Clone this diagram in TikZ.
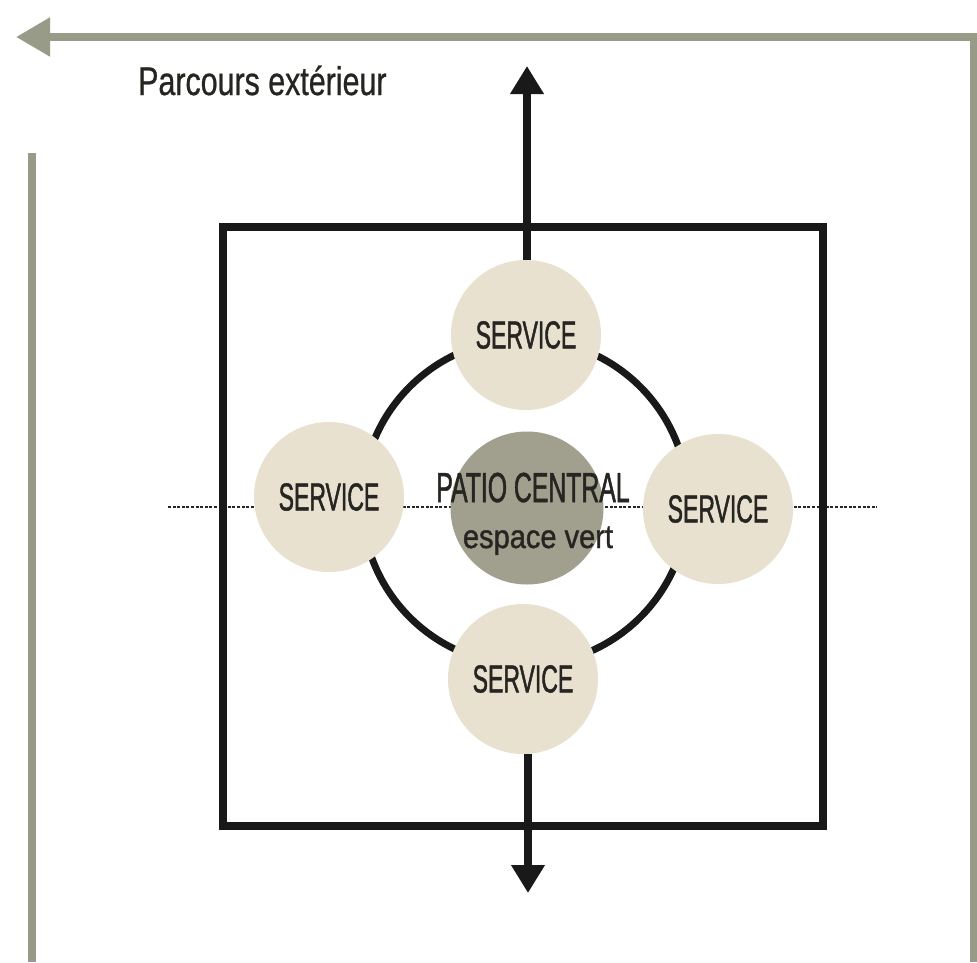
\documentclass[tikz,border=0pt]{standalone}
\usepackage{fontspec}
\setmainfont{Liberation Sans}
\newfontfamily\capfont[FakeStretch=0.59,FakeBold=1.2]{Liberation Sans}
\newfontfamily\parcfont[FakeStretch=0.76,FakeBold=0.6]{Liberation Sans}
\newfontfamily\espfont[FakeStretch=0.88,FakeBold=1.2]{Liberation Sans}
\usetikzlibrary{arrows.meta}
\definecolor{pathgray}{RGB}{152,155,135}
\definecolor{servfill}{RGB}{233,225,208}
\definecolor{patiofill}{RGB}{161,160,143}
\definecolor{inkdark}{RGB}{38,37,33}
\tikzset{
  servnode/.style={circle, fill=servfill, minimum size=150pt, inner sep=0pt,
    text=inkdark, font=\capfont\fontsize{39}{39}\selectfont},
  pationode/.style={circle, fill=patiofill, minimum size=153pt, inner sep=0pt},
  outerline/.style={draw=pathgray, line width=8pt},
  blackline/.style={draw=black!90, line width=7.5pt},
  flowarrow/.style={blackline, -{Triangle[length=28pt,width=32pt]}},
  lbl/.style={inner sep=0pt, text=inkdark}
}
\begin{document}
\begin{tikzpicture}[x=1pt,y=-1pt]
\useasboundingbox (0,0) rectangle (977,962);
\fill[white] (0,0) rectangle (977,962);

% outer path
\coordinate (ostart) at (974,962);
\coordinate (ocorner) at (974,37);
\coordinate (otip) at (16,37);
\coordinate (lefttop) at (32,153);
\coordinate (leftbot) at (32,962);
\draw[outerline, -{Triangle[length=34pt,width=37pt]}] (ostart) -- (ocorner) -- (otip);
\draw[outerline] (lefttop) -- (leftbot);
\node[lbl, anchor=base west, font=\parcfont\fontsize{40}{40}\selectfont] (parcours) at (138,95) {Parcours extérieur};

% dotted axis
\coordinate (dotL) at (168,507);
\coordinate (dotR) at (877,507);
\draw[black!85, line width=2.5pt, dash pattern=on 3pt off 1.6pt] (dotL) -- (dotR);

% ring
\coordinate (ringc) at (525,502);
\draw[blackline, line width=7pt] (ringc) circle[radius=163pt];

% box
\coordinate (boxA) at (223,227);
\coordinate (boxB) at (823,826);
\draw[blackline, line width=8pt] (boxA) rectangle (boxB);

% circles
\node[servnode] (stop) at (526,335) {SERVICE};
\node[servnode] (sleft) at (329,497) {SERVICE};
\node[servnode] (sright) at (718,509) {SERVICE};
\node[servnode] (sbot) at (523,679) {SERVICE};
\node[pationode] (patio) at (527,508) {};

% arrows
\coordinate (toptip) at (527,66);
\coordinate (bottip) at (528,893);
\draw[flowarrow] (stop.north -| toptip) -- (toptip);
\draw[flowarrow] (sbot.south -| bottip) -- (bottip);

% centre labels
\node[lbl, anchor=base, font=\capfont\fontsize{42}{42}\selectfont] (patiot) at (533,502) {PATIO CENTRAL};
\node[lbl, anchor=base, font=\espfont\fontsize{33}{33}\selectfont] (espt) at (538,548) {espace vert};
\end{tikzpicture}
\end{document}
